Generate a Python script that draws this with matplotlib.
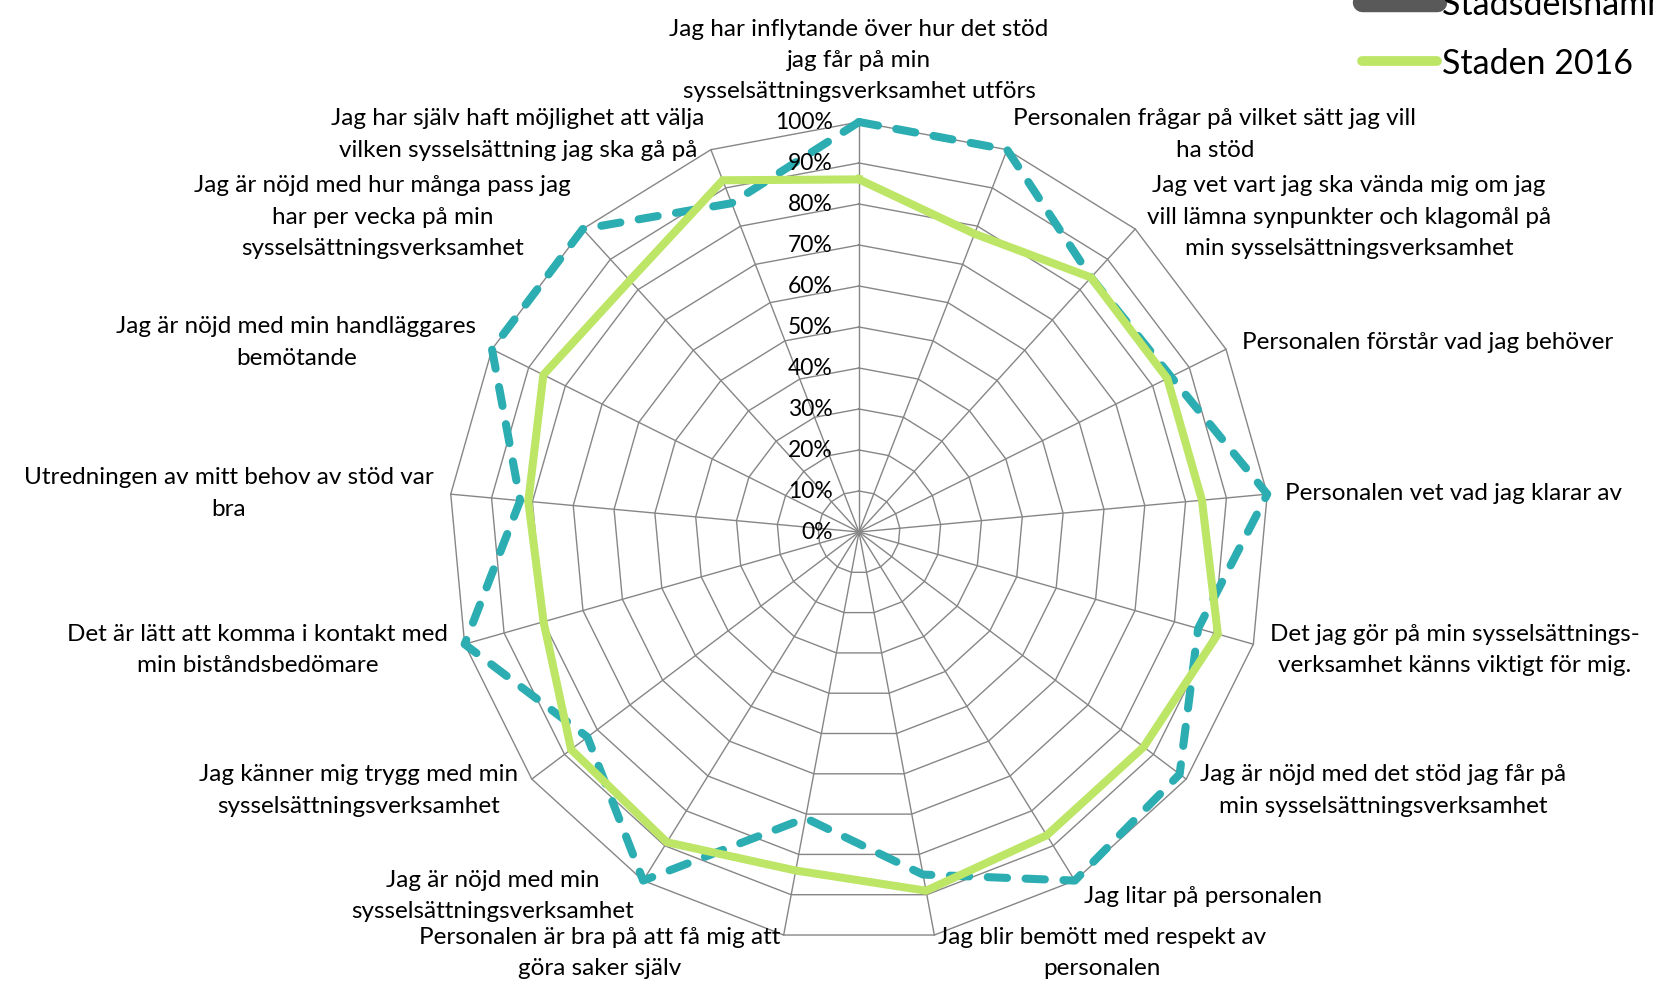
import numpy as np
import matplotlib
matplotlib.use("Agg")
import matplotlib.pyplot as plt
from matplotlib.lines import Line2D

categories = [
    "Jag har inflytande över hur det stöd\njag får på min\nsysselsättningsverksamhet utförs",
    "Personalen frågar på vilket sätt jag vill\nha stöd",
    "Jag vet vart jag ska vända mig om jag\nvill lämna synpunkter och klagomål på\nmin sysselsättningsverksamhet",
    "Personalen förstår vad jag behöver",
    "Personalen vet vad jag klarar av",
    "Det jag gör på min sysselsättnings-\nverksamhet känns viktigt för mig.",
    "Jag är nöjd med det stöd jag får på\nmin sysselsättningsverksamhet",
    "Jag litar på personalen",
    "Jag blir bemött med respekt av\npersonalen",
    "Personalen är bra på att få mig att\ngöra saker själv",
    "Jag är nöjd med min\nsysselsättningsverksamhet",
    "Jag känner mig trygg med min\nsysselsättningsverksamhet",
    "Det är lätt att komma i kontakt med\nmin biståndsbedömare",
    "Utredningen av mitt behov av stöd var\nbra",
    "Jag är nöjd med min handläggares\nbemötande",
    "Jag är nöjd med hur många pass jag\nhar per vecka på min\nsysselsättningsverksamhet",
    "Jag har själv haft möjlighet att välja\nvilken sysselsättning jag ska gå på",
]

series_names = ["Stadsdelsnamn 2017", "Stadsdelsnamn 2016", "Staden 2016"]
stadsdel_2017 = [100, 100, 84, 85, 100, 86, 98, 100, 85, 71, 100, 83, 100, 83, 100, 100, 86]
staden_2016 = [86, 78, 84, 84, 84, 91, 87, 87, 89, 84, 89, 88, 80, 81, 86, 83, 92]
tick_values = [0, 10, 20, 30, 40, 50, 60, 70, 80, 90, 100]

TEAL = "#2BADB1"
GREEN = "#BDE566"
DARK = "#595959"
GRID = "#868686"
FONT = "Lato"

plt.rcParams["font.family"] = [FONT, "DejaVu Sans"]

W, H = 1653, 995
fig = plt.figure(figsize=(W / 100, H / 100), dpi=100)
cx, cy, R = 859, 533, 410
ax = fig.add_axes([(cx - R) / W, (H - cy - R) / H, 2 * R / W, 2 * R / H], projection="polar")
ax.set_theta_zero_location("N")
ax.set_theta_direction(-1)
ax.set_ylim(0, 1)
ax.grid(False)
ax.spines["polar"].set_visible(False)
ax.set_xticks([])
ax.set_yticks([])
ax.patch.set_alpha(0)

n = len(categories)
theta = np.arange(n) * 2 * np.pi / n
theta_c = np.append(theta, theta[0])

# polygon grid
for t in tick_values[1:]:
    ax.plot(theta_c, [t / 100] * (n + 1), color=GRID, lw=1.0, zorder=1, clip_on=False)
for th in theta:
    ax.plot([th, th], [0, 1], color=GRID, lw=1.0, zorder=1, clip_on=False)

# radial tick labels
for t in tick_values:
    ax.annotate(f"{t}%", xy=(0, t / 100), xytext=(-19, 0), textcoords="offset points",
                ha="right", va="center", fontsize=16.5, color="#000000", zorder=5)

def closed(v):
    v = np.asarray(v, dtype=float) / 100
    return np.append(v, v[0])

l1, = ax.plot(theta_c, closed(stadsdel_2017), color=TEAL, lw=5.8, zorder=3, clip_on=False,
              dashes=(2.4, 2.3), dash_capstyle="round", solid_joinstyle="round")
l3, = ax.plot(theta_c, closed(staden_2016), color=GREEN, lw=5.8, zorder=4, clip_on=False,
              solid_joinstyle="miter")

# category labels
off = 12.5
LS = 1.6
for k, (th, lab) in enumerate(zip(theta, categories)):
    s, c = np.sin(th), np.cos(th)
    if k == 0:
        ax.annotate(lab, xy=(th, 1.0), xytext=(0, 15), textcoords="offset points",
                    ha="center", va="bottom", multialignment="center", fontsize=17.5,
                    linespacing=LS)
    else:
        ha = "left" if s > 0 else "right"
        ax.annotate(lab, xy=(th, 1.0), xytext=(off * s, off * c), textcoords="offset points",
                    ha=ha, va="center", multialignment="center", fontsize=17.5,
                    linespacing=LS, annotation_clip=False)

handles = [
    Line2D([], [], color=TEAL, lw=7, dashes=(2.4, 2.3), dash_capstyle="round"),
    Line2D([], [], color=DARK, lw=14, solid_capstyle="round"),
    Line2D([], [], color=GREEN, lw=7, solid_capstyle="round"),
]
fig.legend(handles, series_names, loc="lower left",
           bbox_to_anchor=(1362 / W, (H - 80) / H), frameon=False, fontsize=24.5,
           handlelength=2.2, handletextpad=0.15, labelspacing=0.8, borderpad=0,
           borderaxespad=0)

fig.savefig("out.png", dpi=100)
